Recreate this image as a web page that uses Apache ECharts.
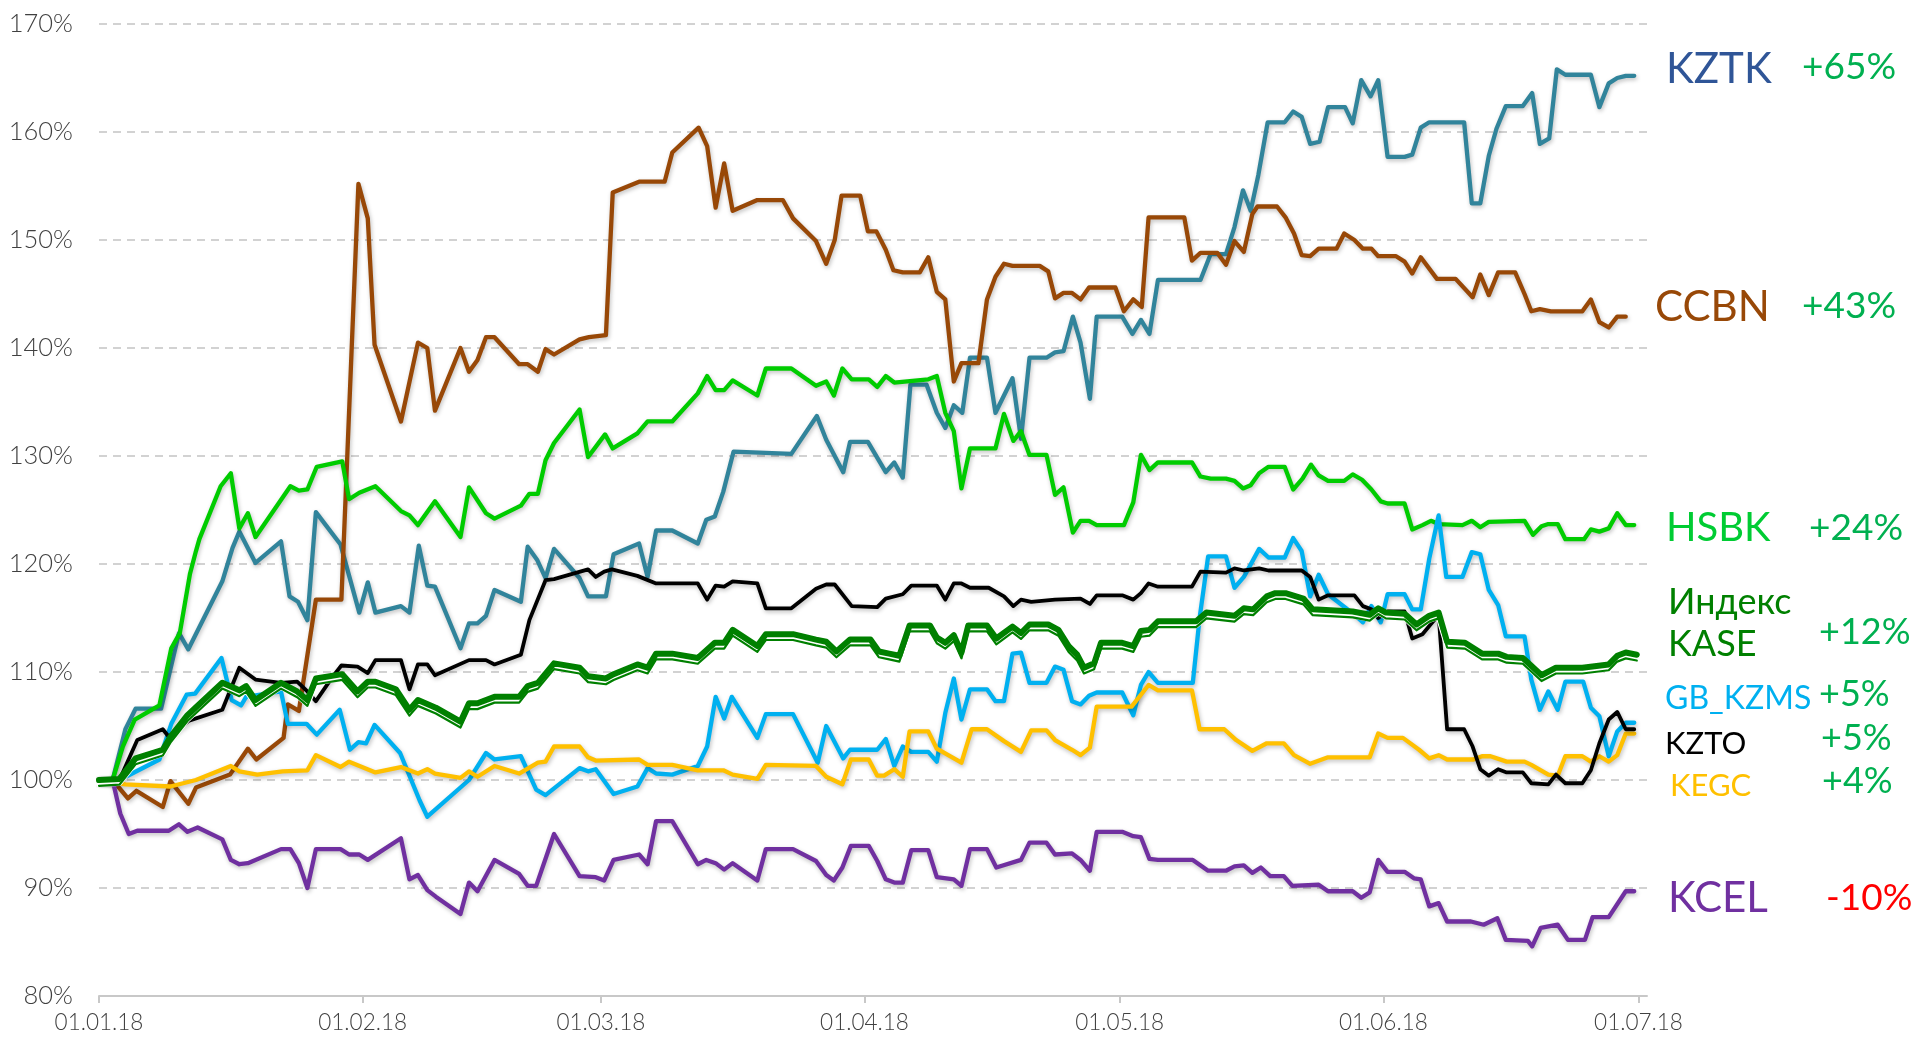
<!DOCTYPE html>
<html>
<head>
<meta charset="utf-8">
<title>KASE</title>
<script src="https://cdn.jsdelivr.net/npm/echarts@6/dist/echarts.min.js"></script>
<style>
    html, body { margin: 0; padding: 0; background: #fff; }
    #chart { width: 1917px; height: 1039px; }
</style>
</head>
<body>
<div id="chart"></div>
<script>
// days counted from 01.01.18, values in % of the start level
var monthTicks = [0, 31, 59, 90, 120, 151, 181];
var monthLabels = ['01.01.18', '01.02.18', '01.03.18', '01.04.18', '01.05.18', '01.06.18', '01.07.18'];

var kztk = [[0,100],[1.6,100],[3.1,104.7],[4.3,106.6],[7.3,106.6],[9.4,113.6],[10.5,112.1],[14.5,118.4],[15.7,121.5],[16.5,123.0],[18.4,120.1],[21.4,122.1],[22.4,117.0],[23.4,116.5],[24.5,114.8],[25.5,124.8],[28.4,121.8],[30.6,115.5],[31.6,118.3],[32.5,115.5],[35.5,116.1],[36.5,115.5],[37.6,121.7],[38.6,118.0],[39.5,117.9],[42.5,112.2],[43.5,114.5],[44.5,114.5],[45.5,115.2],[46.5,117.6],[49.6,116.5],[50.4,121.6],[51.5,120.4],[52.5,118.7],[53.5,121.4],[56.5,118.7],[57.5,117.0],[59.6,117.0],[60.5,120.9],[63.5,121.9],[64.5,118.8],[65.5,123.1],[67.4,123.1],[70.4,121.9],[71.4,124.1],[72.4,124.4],[73.4,126.7],[74.6,130.4],[81.4,130.2],[84.4,133.7],[85.5,131.5],[87.5,128.5],[88.3,131.3],[90.4,131.3],[92.5,128.5],[93.5,129.4],[94.5,128.0],[95.4,136.6],[97.3,136.6],[98.5,134.0],[99.5,132.6],[100.5,134.7],[101.5,134.0],[102.4,139.1],[104.4,139.1],[105.4,134.0],[107.4,137.2],[108.4,131.6],[109.4,139.1],[111.4,139.1],[112.4,139.6],[113.4,139.7],[114.5,142.9],[115.4,140.5],[116.5,135.3],[117.3,142.9],[120.3,142.9],[121.5,141.3],[122.5,142.6],[123.5,141.3],[124.5,146.3],[129.5,146.3],[130.7,148.7],[132.5,148.7],[133.5,151.2],[134.5,154.6],[135.4,152.7],[136.3,156.0],[137.4,160.9],[139.4,160.9],[140.4,161.9],[141.4,161.4],[142.4,158.9],[143.5,159.1],[144.5,162.3],[146.5,162.3],[147.4,160.8],[148.4,164.8],[149.5,163.3],[150.4,164.8],[151.5,157.7],[153.5,157.7],[154.4,157.9],[155.4,160.4],[156.4,160.9],[160.5,160.9],[161.4,153.4],[162.4,153.4],[163.4,157.8],[164.3,160.3],[165.4,162.4],[167.4,162.4],[168.5,163.6],[169.4,158.9],[170.5,159.4],[171.4,165.8],[172.4,165.3],[175.4,165.3],[176.4,162.3],[177.5,164.5],[178.5,165.0],[179.5,165.2],[180.5,165.2]];

var ccbn = [[0,100],[1.6,100],[3.4,98.3],[4.4,99.0],[7.5,97.5],[8.4,99.9],[10.5,97.8],[11.4,99.3],[15.4,100.5],[17.5,102.9],[18.5,101.9],[21.7,103.9],[22.2,107.0],[23.5,106.4],[25.5,116.7],[28.5,116.7],[30.5,155.2],[31.6,152.0],[32.4,140.3],[35.5,133.2],[37.5,140.5],[38.6,140.0],[39.5,134.2],[42.5,140.0],[43.5,137.8],[44.5,138.9],[45.5,141.0],[46.5,141.0],[49.4,138.5],[50.4,138.5],[51.6,137.8],[52.5,139.9],[53.5,139.4],[56.5,140.8],[57.6,141.0],[59.6,141.2],[60.4,154.4],[63.5,155.4],[66.5,155.4],[67.4,158.1],[70.5,160.4],[71.5,158.7],[72.5,153.0],[73.5,157.1],[74.5,152.7],[77.4,153.7],[80.4,153.7],[81.6,152.0],[84.3,149.9],[85.5,147.8],[86.5,150.0],[87.3,154.1],[89.5,154.1],[90.4,150.8],[91.4,150.8],[92.5,149.1],[93.4,147.2],[94.5,147.0],[96.5,147.0],[97.5,148.4],[98.5,145.2],[99.5,144.5],[100.5,136.9],[101.4,138.6],[103.4,138.6],[104.4,144.5],[105.4,146.6],[106.4,147.8],[107.4,147.6],[110.6,147.6],[111.6,147.1],[112.4,144.6],[113.4,145.1],[114.4,145.1],[115.4,144.5],[116.4,145.6],[119.5,145.6],[120.5,143.4],[121.6,144.5],[122.6,143.8],[123.4,152.1],[127.6,152.1],[128.5,148.1],[129.5,148.8],[131.5,148.8],[132.5,147.7],[133.5,149.9],[134.6,148.9],[135.6,152.4],[136.2,153.1],[138.5,153.1],[139.5,152.1],[140.5,150.6],[141.4,148.6],[142.4,148.5],[143.4,149.2],[145.5,149.2],[146.4,150.6],[147.6,150.0],[148.6,149.2],[149.6,149.2],[150.4,148.5],[152.5,148.5],[153.5,148.0],[154.4,146.9],[155.4,148.4],[157.3,146.4],[159.5,146.4],[161.5,144.7],[162.4,146.8],[163.4,144.9],[164.5,147.0],[166.5,147.0],[167.6,145.0],[168.4,143.4],[169.4,143.6],[170.7,143.4],[174.4,143.4],[175.4,144.5],[176.4,142.4],[177.5,141.9],[178.5,142.9],[179.5,142.9]];

var hsbk = [[0,100],[1.6,100],[2.8,103.1],[4.2,105.6],[7.1,106.9],[8.5,112.2],[9.5,113.6],[10.7,119.1],[11.4,121.2],[11.8,122.3],[14.3,127.2],[15.5,128.4],[16.5,123.3],[17.5,124.7],[18.4,122.5],[22.5,127.2],[23.5,126.8],[24.5,126.9],[25.6,129.0],[28.6,129.5],[29.4,126.0],[30.6,126.6],[32.5,127.2],[35.5,124.9],[36.5,124.5],[37.5,123.6],[39.5,125.8],[42.5,122.5],[43.5,127.1],[45.5,124.7],[46.5,124.2],[49.6,125.4],[50.6,126.5],[51.6,126.5],[52.5,129.6],[53.5,131.2],[56.5,134.3],[57.5,129.9],[59.5,132.0],[60.4,130.7],[63.3,132.1],[64.5,133.2],[67.4,133.2],[70.4,135.8],[71.5,137.4],[72.5,136.1],[73.5,136.1],[74.5,137.0],[77.4,135.6],[78.4,138.1],[81.4,138.1],[84.3,136.5],[85.5,136.9],[86.4,135.6],[87.4,138.1],[88.5,137.1],[90.5,137.1],[91.5,136.4],[92.5,137.4],[93.5,136.8],[97.5,137.1],[98.5,137.4],[99.5,134.0],[100.5,132.3],[101.4,127.0],[102.4,130.7],[105.4,130.7],[106.4,133.9],[107.5,131.4],[108.4,132.3],[109.4,130.1],[111.4,130.1],[112.4,126.4],[113.4,127.1],[114.5,122.9],[115.4,124.0],[116.4,124.0],[117.3,123.6],[120.5,123.6],[121.6,125.7],[122.5,130.1],[123.5,128.7],[124.5,129.4],[128.5,129.4],[129.5,128.1],[130.7,127.9],[132.5,127.9],[133.5,127.7],[134.5,127.0],[135.4,127.3],[136.4,128.4],[137.5,129.0],[139.4,129.0],[140.4,126.9],[141.5,127.9],[142.5,129.2],[143.4,128.2],[144.5,127.7],[146.4,127.7],[147.4,128.3],[148.5,127.8],[149.6,126.9],[150.7,125.8],[151.5,125.6],[153.5,125.6],[154.4,123.2],[155.6,123.6],[156.6,124.0],[157.5,123.7],[160.3,123.6],[161.4,124.0],[162.4,123.4],[163.4,123.9],[167.6,124.0],[168.6,122.7],[169.6,123.5],[170.4,123.7],[171.5,123.7],[172.4,122.3],[174.6,122.3],[175.4,123.2],[176.4,123.0],[177.5,123.3],[178.5,124.7],[179.5,123.6],[180.5,123.6]];

var kase = [[0,100],[2.4,100.1],[4.3,102.0],[7.5,102.8],[8.4,104.0],[10.4,106.0],[14.5,109.0],[16.5,108.3],[17.3,108.7],[18.4,107.4],[21.4,109.0],[23.3,108.2],[24.5,107.4],[25.5,109.4],[28.6,109.8],[30.4,108.2],[31.6,109.1],[32.5,109.1],[34.9,108.4],[36.5,106.5],[37.5,107.4],[39.6,106.7],[42.5,105.4],[43.5,107.1],[44.5,107.1],[46.5,107.7],[49.4,107.7],[50.4,108.7],[51.6,109.0],[53.5,110.8],[56.5,110.4],[57.5,109.6],[59.6,109.4],[60.5,109.8],[63.3,110.7],[64.5,110.4],[65.5,111.7],[67.4,111.7],[70.4,111.3],[72.4,112.7],[73.5,112.7],[74.5,113.9],[77.4,112.4],[78.4,113.5],[81.6,113.5],[84.3,113.0],[85.5,112.8],[86.7,111.9],[88.3,113.0],[90.7,113.0],[91.7,111.9],[92.9,111.7],[94.1,111.5],[95.3,114.3],[97.7,114.3],[98.5,113.2],[99.5,112.7],[100.5,113.4],[101.4,111.8],[102.2,114.3],[104.4,114.3],[105.5,113.1],[107.4,114.2],[108.4,113.6],[109.4,114.4],[111.6,114.4],[112.8,113.9],[114.0,112.4],[115.0,111.6],[115.8,110.4],[117.0,110.8],[117.8,112.7],[120.3,112.7],[121.6,112.4],[122.5,113.8],[123.5,113.9],[124.5,114.7],[129.0,114.7],[130.2,115.5],[133.5,115.2],[134.6,115.9],[135.7,115.8],[137.3,117.0],[138.3,117.3],[139.5,117.3],[141.6,116.8],[142.7,115.8],[147.4,115.6],[149.4,115.3],[150.4,115.9],[151.3,115.5],[153.5,115.4],[154.9,114.4],[156.4,115.2],[157.5,115.5],[158.5,112.8],[160.6,112.7],[162.6,111.7],[164.5,111.7],[165.5,111.4],[167.4,111.3],[169.6,109.7],[171.3,110.4],[174.4,110.4],[177.5,110.7],[178.5,111.5],[179.5,111.8],[180.8,111.6]];

var gbKzms = [[0,100],[2.4,100],[7.1,101.9],[8.5,105.2],[10.3,107.9],[11.3,108.0],[14.4,111.3],[15.6,107.4],[16.7,106.9],[17.3,107.7],[21.4,108.2],[22.2,105.2],[24.4,105.2],[25.6,104.2],[28.3,106.5],[29.5,102.8],[30.5,103.5],[31.4,103.4],[32.4,105.1],[35.4,102.5],[37.7,98.1],[38.6,96.6],[43.5,100.0],[45.5,102.5],[46.5,101.9],[49.6,102.2],[51.4,99.1],[52.5,98.6],[56.5,101.1],[57.5,100.8],[58.4,101.0],[59.4,99.9],[60.5,98.7],[63.3,99.4],[64.5,101.1],[65.5,100.6],[67.4,100.5],[70.4,101.3],[71.5,103.1],[72.5,107.7],[73.5,105.7],[74.4,107.7],[77.4,103.9],[78.4,106.1],[81.6,106.1],[84.5,101.6],[85.5,105.0],[87.5,102.0],[88.3,102.8],[91.5,102.8],[92.5,103.8],[93.5,101.3],[94.5,103.1],[95.5,102.6],[97.5,102.6],[98.5,101.7],[99.5,106.2],[100.5,109.4],[101.4,105.6],[102.4,108.4],[104.4,108.4],[105.4,107.3],[106.4,107.3],[107.4,111.7],[108.4,111.8],[109.4,109.0],[111.4,109.0],[112.4,110.5],[113.4,110.2],[114.4,107.3],[115.4,107.0],[116.4,107.8],[117.3,108.1],[120.3,108.1],[121.6,106.0],[122.5,108.8],[123.4,110.0],[124.5,109.0],[128.6,109.0],[129.4,115.0],[130.4,120.7],[132.5,120.7],[133.5,117.8],[134.6,118.8],[136.4,121.4],[137.5,120.6],[139.4,120.6],[140.4,122.4],[141.4,121.2],[142.4,117.0],[143.4,119.0],[144.5,117.2],[147.6,115.3],[148.6,114.6],[149.6,116.1],[150.7,114.6],[151.5,117.2],[153.5,117.2],[154.4,115.8],[155.4,115.8],[156.4,120.5],[157.5,124.5],[158.4,118.8],[160.3,118.8],[161.4,121.1],[162.4,120.9],[163.4,117.6],[164.5,116.2],[165.4,113.3],[167.6,113.3],[168.4,109.3],[169.4,106.5],[170.4,108.2],[171.5,106.5],[172.4,109.1],[174.5,109.1],[175.4,106.7],[176.4,105.9],[177.5,102.2],[178.5,104.5],[179.5,105.3],[180.5,105.3]];

var kzto = [[0,100],[2.4,100],[4.5,103.7],[7.5,104.7],[8.2,104.0],[10.6,105.5],[14.5,106.5],[16.5,110.4],[18.4,109.3],[21.4,109.0],[23.3,109.1],[24.5,108.2],[25.5,107.3],[27.5,109.6],[28.5,110.6],[30.4,110.5],[31.6,109.9],[32.5,111.1],[35.5,111.1],[36.5,108.4],[37.5,110.7],[38.6,110.7],[39.5,109.7],[43.5,111.1],[45.5,111.1],[46.5,110.7],[49.6,111.6],[50.6,114.8],[52.5,118.5],[53.5,118.6],[57.5,119.5],[58.4,118.8],[59.4,119.3],[60.3,119.5],[63.3,118.9],[65.5,118.2],[70.4,118.2],[71.5,116.7],[72.5,118.0],[73.5,117.9],[74.5,118.4],[77.4,118.2],[78.4,115.9],[81.4,115.9],[84.3,117.7],[85.5,118.1],[86.5,118.1],[88.5,116.1],[91.5,116.0],[92.5,116.8],[94.5,117.2],[95.5,118.0],[98.5,118.0],[99.5,116.7],[100.5,118.2],[101.4,118.2],[102.4,117.8],[104.6,117.8],[106.4,117.0],[107.5,116.1],[108.4,116.7],[109.6,116.5],[112.4,116.7],[115.4,116.8],[116.5,116.3],[117.3,117.1],[120.3,117.1],[121.6,116.7],[122.5,117.3],[123.4,118.2],[124.5,117.9],[128.5,117.9],[129.5,119.3],[132.5,119.2],[133.5,119.6],[134.6,119.4],[136.4,119.6],[137.5,119.4],[141.4,119.4],[142.4,118.8],[143.4,116.7],[144.5,117.1],[147.6,117.1],[148.6,116.1],[149.6,115.8],[150.4,115.0],[151.5,115.6],[153.5,115.6],[154.4,113.1],[155.6,113.5],[157.5,115.3],[158.5,104.7],[160.5,104.7],[161.5,103.1],[162.4,101.0],[163.4,100.4],[164.5,101.0],[165.5,100.7],[167.4,100.7],[168.4,99.7],[170.4,99.6],[171.3,100.5],[172.4,99.7],[174.4,99.7],[175.4,100.9],[176.4,103.4],[177.5,105.6],[178.5,106.3],[179.5,104.7],[180.5,104.7]];

var kegc = [[0,100],[3.1,99.6],[8.4,99.4],[11.4,100.0],[15.5,101.3],[16.5,100.8],[18.6,100.5],[21.6,100.8],[24.5,100.9],[25.5,102.3],[28.4,101.2],[29.4,101.7],[32.5,100.7],[35.5,101.2],[37.5,100.6],[38.6,101.0],[39.5,100.6],[42.5,100.2],[43.5,100.8],[44.5,100.3],[46.5,101.3],[49.4,100.6],[51.6,101.6],[52.5,101.7],[53.5,103.1],[56.5,103.1],[57.5,102.1],[58.4,101.8],[63.5,101.9],[64.5,101.4],[67.4,101.4],[70.4,100.9],[73.4,100.9],[74.5,100.5],[77.4,100.1],[78.4,101.4],[84.3,101.3],[85.5,100.3],[87.4,99.6],[88.4,101.9],[90.5,101.9],[91.5,100.4],[92.3,100.4],[93.5,101.0],[94.5,100.3],[95.3,104.5],[97.5,104.5],[98.5,102.9],[101.4,101.6],[102.6,104.7],[104.4,104.7],[106.4,103.6],[108.4,102.6],[109.6,104.6],[111.4,104.6],[112.4,103.7],[114.4,102.8],[115.4,102.3],[116.5,103.0],[117.3,106.8],[121.4,106.8],[123.4,108.8],[124.5,108.3],[128.5,108.3],[129.4,104.7],[132.3,104.7],[133.7,103.7],[135.6,102.7],[137.3,103.4],[139.3,103.4],[140.5,102.3],[142.4,101.5],[144.5,102.1],[149.4,102.1],[150.4,104.3],[151.5,103.9],[153.3,103.9],[155.2,102.8],[156.4,102.0],[157.5,102.3],[158.5,101.9],[161.6,101.9],[162.6,102.2],[163.6,102.2],[165.5,101.7],[167.6,101.7],[168.4,101.4],[170.4,100.5],[171.5,100.4],[172.4,102.2],[174.4,102.2],[175.4,101.7],[176.4,102.2],[177.5,101.7],[178.5,102.3],[179.5,104.3],[180.5,104.3]];

var kcel = [[0,100],[1.6,100],[2.5,96.9],[3.5,95.0],[4.5,95.3],[8.2,95.3],[9.4,95.9],[10.4,95.2],[11.6,95.6],[14.5,94.5],[15.5,92.6],[16.5,92.2],[17.5,92.3],[21.4,93.6],[22.5,93.6],[23.5,92.3],[24.5,90.0],[25.5,93.6],[28.4,93.6],[29.4,93.1],[30.6,93.1],[31.6,92.6],[35.5,94.6],[36.5,90.8],[37.5,91.2],[38.6,89.8],[39.6,89.2],[42.5,87.6],[43.5,90.5],[44.5,89.7],[46.5,92.6],[49.4,91.3],[50.4,90.2],[51.4,90.2],[53.5,95.0],[56.5,91.1],[58.4,91.0],[59.4,90.7],[60.5,92.6],[63.5,93.1],[64.5,92.2],[65.5,96.2],[67.4,96.2],[70.4,92.2],[71.4,92.6],[72.5,92.3],[73.5,91.7],[74.5,92.3],[77.4,90.7],[78.4,93.6],[81.6,93.6],[84.3,92.5],[85.5,91.2],[86.4,90.7],[87.4,91.9],[88.4,93.9],[90.5,93.9],[91.5,92.5],[92.5,90.8],[93.5,90.5],[94.5,90.5],[95.5,93.5],[97.5,93.5],[98.5,91.0],[100.5,90.8],[101.4,90.2],[102.4,93.6],[104.4,93.6],[105.5,91.9],[108.4,92.6],[109.4,94.2],[111.4,94.2],[112.4,93.1],[114.4,93.2],[115.4,92.6],[116.5,91.6],[117.3,95.2],[120.3,95.2],[121.6,94.8],[122.5,94.7],[123.5,92.7],[124.5,92.6],[128.6,92.6],[130.4,91.6],[132.5,91.6],[133.5,92.0],[134.6,92.1],[135.6,91.4],[136.6,91.9],[137.7,91.1],[139.3,91.1],[140.3,90.2],[143.4,90.3],[144.5,89.7],[147.4,89.7],[148.4,89.1],[149.4,89.6],[150.4,92.6],[151.5,91.5],[153.5,91.5],[154.6,90.9],[155.4,90.8],[156.4,88.3],[157.5,88.6],[158.5,86.9],[161.3,86.9],[162.8,86.6],[164.4,87.2],[165.4,85.2],[168.0,85.1],[168.5,84.6],[169.5,86.3],[171.5,86.6],[172.7,85.2],[174.7,85.2],[175.6,87.3],[177.5,87.3],[179.5,89.7],[180.5,89.7]];

// right-hand captions
var tickerNames = ['KZTK', 'CCBN', 'HSBK', 'Индекс\nKASE', 'GB_KZMS', 'KZTO', 'KEGC', 'KCEL'];
var tickerChanges = ['+65%', '+43%', '+24%', '+12%', '+5%', '+5%', '+4%', '-10%'];

var chart = echarts.init(document.getElementById('chart'));

function plainLine(name, data, color, width) {
    return {
        name: name,
        type: 'line',
        data: data,
        symbol: 'none',
        silent: true,
        animation: false,
        emphasis: { disabled: true },
        lineStyle: {
            color: color,
            width: width,
            cap: 'round',
            join: 'round',
            shadowColor: 'rgba(0,0,0,0.25)',
            shadowBlur: 4,
            shadowOffsetX: 1,
            shadowOffsetY: 2
        }
    };
}

//double line for the index: thick green, white gap, thin green below
function indexLines(data) {
    var thick = {
        name: 'KASE',
        type: 'line',
        data: data,
        symbol: 'none',
        silent: true,
        animation: false,
        emphasis: { disabled: true },
        lineStyle: {
            color: '#008000', width: 6, cap: 'round', join: 'round',
            shadowColor: '#ffffff', shadowBlur: 0, shadowOffsetX: 0, shadowOffsetY: 4
        }
    };
    var thin = {
        name: 'KASE2',
        type: 'line',
        data: data,
        symbol: 'none',
        silent: true,
        animation: false,
        emphasis: { disabled: true },
        lineStyle: {
            color: '#008000', width: 2.2, cap: 'round', join: 'round',
            shadowColor: '#008000', shadowBlur: 0, shadowOffsetX: 0, shadowOffsetY: 5.8
        }
    };
    return [thick, thin];
}

function caption(text, x, y, size, color) {
    return {
        type: 'text',
        left: x,
        top: y,
        silent: true,
        style: {
            text: text,
            fill: color,
            font: '400 ' + size + 'px Lato, "Noto Sans", sans-serif',
            textVerticalAlign: 'middle',
            lineHeight: size * 1.15
        }
    };
}

var nameColors = ['#2f5597', '#984807', '#00cc33', '#008000', '#00b0f0', '#000000', '#ffc000', '#7030a0'];
var changeColors = ['#00b050', '#00b050', '#00b050', '#00b050', '#00b050', '#00b050', '#00b050', '#ff0000'];

var graphics = [
    caption(tickerNames[0], 1666, 45, 42, nameColors[0]),
    caption(tickerChanges[0], 1802, 46, 37, changeColors[0]),
    caption(tickerNames[1], 1655, 283, 42, nameColors[1]),
    caption(tickerChanges[1], 1802, 285, 37, changeColors[1]),
    caption(tickerNames[2], 1666, 505, 40, nameColors[2]),
    caption(tickerChanges[2], 1809, 507, 37, changeColors[2]),
    caption(tickerNames[3], 1668, 582, 36, nameColors[3]),
    caption(tickerChanges[3], 1819, 612, 36, changeColors[3]),
    caption(tickerNames[4], 1665, 680, 32, nameColors[4]),
    caption(tickerChanges[4], 1819, 674, 36, changeColors[4]),
    caption(tickerNames[5], 1665, 726, 31, nameColors[5]),
    caption(tickerChanges[5], 1821, 718, 36, changeColors[5]),
    caption(tickerNames[6], 1670, 768, 31, nameColors[6]),
    caption(tickerChanges[6], 1822, 761, 36, changeColors[6]),
    caption(tickerNames[7], 1668, 874, 42, nameColors[7]),
    caption(tickerChanges[7], 1826, 877, 37, changeColors[7])
];

var series = [
    plainLine('KZTK', kztk, '#31849b', 4.3),
    plainLine('CCBN', ccbn, '#984807', 4.3),
    plainLine('HSBK', hsbk, '#00cc00', 4.3),
    plainLine('GB_KZMS', gbKzms, '#00b0f0', 4.3),
    plainLine('KEGC', kegc, '#ffc000', 4.3),
    plainLine('KZTO', kzto, '#000000', 3.8),
    plainLine('KCEL', kcel, '#7030a0', 4.3)
].concat(indexLines(kase));

var option = {
    backgroundColor: '#ffffff',
    animation: false,
    grid: {
        left: 99,
        right: 270,
        top: 24,
        bottom: 43,
        containLabel: false,
        outerBoundsMode: 'none'
    },
    xAxis: {
        type: 'value',
        min: 0,
        max: 182,
        splitLine: { show: false },
        axisLine: { lineStyle: { color: '#c8c8c8', width: 2 } },
        axisTick: {
            customValues: monthTicks,
            length: 7,
            lineStyle: { color: '#c8c8c8', width: 2 }
        },
        axisLabel: {
            customValues: monthTicks,
            margin: 15,
            color: '#404040',
            fontFamily: 'Lato, "Noto Sans", sans-serif',
            fontWeight: 300,
            fontSize: 22.5,
            formatter: function (v) {
                var i = monthTicks.indexOf(v);
                return i >= 0 ? monthLabels[i] : '';
            }
        }
    },
    yAxis: {
        type: 'value',
        min: 80,
        max: 170,
        interval: 10,
        axisLine: { show: false },
        axisTick: { show: false },
        axisLabel: {
            margin: 26,
            color: '#404040',
            fontFamily: 'Lato, "Noto Sans", sans-serif',
            fontWeight: 300,
            fontSize: 25.5,
            formatter: '{value}%'
        },
        splitLine: {
            lineStyle: { color: '#c4c4c4', width: 1.5, type: [8, 6] }
        }
    },
    graphic: graphics,
    series: series
};

chart.setOption(option);
</script>
</body>
</html>
